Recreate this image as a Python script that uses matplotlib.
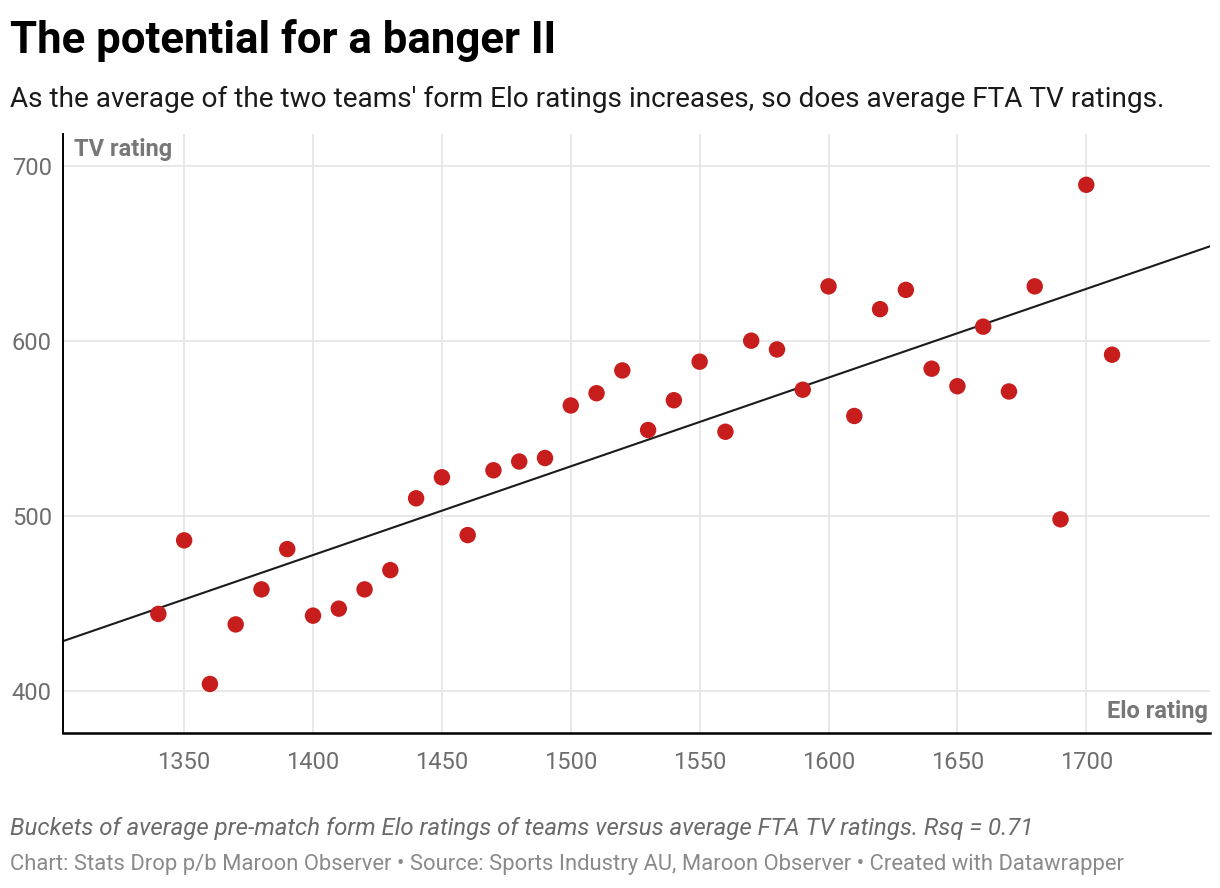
import matplotlib
matplotlib.use('Agg')
import matplotlib.pyplot as plt
import numpy as np

plt.rcParams['font.family'] = ['Roboto', 'DejaVu Sans']

# buckets of average pre-match form Elo vs average FTA TV rating
elo = [1340, 1350, 1360, 1370, 1380, 1390, 1400, 1410, 1420, 1430,
       1440, 1450, 1460, 1470, 1480, 1490, 1500, 1510, 1520, 1530,
       1540, 1550, 1560, 1570, 1580, 1590, 1600, 1610, 1620, 1630,
       1640, 1650, 1660, 1670, 1680, 1690, 1700, 1710]
tv = [444, 486, 404, 438, 458, 481, 443, 447, 458, 469,
      510, 522, 489, 526, 531, 533, 563, 570, 583, 549,
      566, 588, 548, 600, 595, 572, 631, 557, 618, 629,
      584, 574, 608, 571, 631, 498, 689, 592]

x_ticks = [1350, 1400, 1450, 1500, 1550, 1600, 1650, 1700]
y_ticks = [400, 500, 600, 700]

title = 'The potential for a banger II'
subtitle = "As the average of the two teams' form Elo ratings increases, so does average FTA TV ratings."
note = 'Buckets of average pre-match form Elo ratings of teams versus average FTA TV ratings. Rsq = 0.71'
credit = 'Chart: Stats Drop p/b Maroon Observer \u2022 Source: Sports Industry AU, Maroon Observer \u2022 Created with Datawrapper'

fig = plt.figure(figsize=(12.2, 8.88), dpi=100)
ax = fig.add_axes([63 / 1220, 1 - 733 / 888, (1210 - 63) / 1220, (733 - 134) / 888])

x0, x1 = 1303, 1748
ax.set_xlim(x0, x1)
ax.set_ylim(376, 718)

ax.grid(True, color='#e6e6e6', linewidth=1.3)
ax.set_axisbelow(True)
ax.set_xticks(x_ticks)
ax.set_yticks(y_ticks)
ax.tick_params(length=0, labelsize=17, labelcolor='#6e6e6e', pad=13)
ax.tick_params(axis='y', pad=8)
for s in ['top', 'right']:
    ax.spines[s].set_visible(False)
ax.spines['left'].set_linewidth(1.4)
ax.spines['bottom'].set_linewidth(1.8)

# linear trend from the points
slope, icpt = np.polyfit(elo, tv, 1)
xs = np.array([x0, x1])
ax.plot(xs, slope * xs + icpt, color='#1a1a1a', linewidth=1.5, zorder=2)

ax.scatter(elo, tv, s=140, color='#c71e1d', edgecolors='none', zorder=3)

ax.text(0.01, 0.993, 'TV rating', transform=ax.transAxes, ha='left', va='top',
        fontsize=17, fontweight='bold', color='#777777')
ax.text(0.998, 0.016, 'Elo rating', transform=ax.transAxes, ha='right', va='bottom',
        fontsize=17, fontweight='bold', color='#777777')

fig.text(10 / 1220, 1 - 40 / 888, title, ha='left', va='center', fontsize=31.5,
         fontweight='bold', color='#000000')
fig.text(10 / 1220, 1 - 99 / 888, subtitle, ha='left', va='center', fontsize=20.2,
         color='#1a1a1a')
fig.text(10 / 1220, 1 - 828 / 888, note, ha='left', va='center', fontsize=17.3,
         style='italic', color='#6a6a6a')
fig.text(10 / 1220, 1 - 864 / 888, credit, ha='left', va='center', fontsize=15.8,
         color='#8a8a8a')

fig.savefig('out.png', dpi=100)
